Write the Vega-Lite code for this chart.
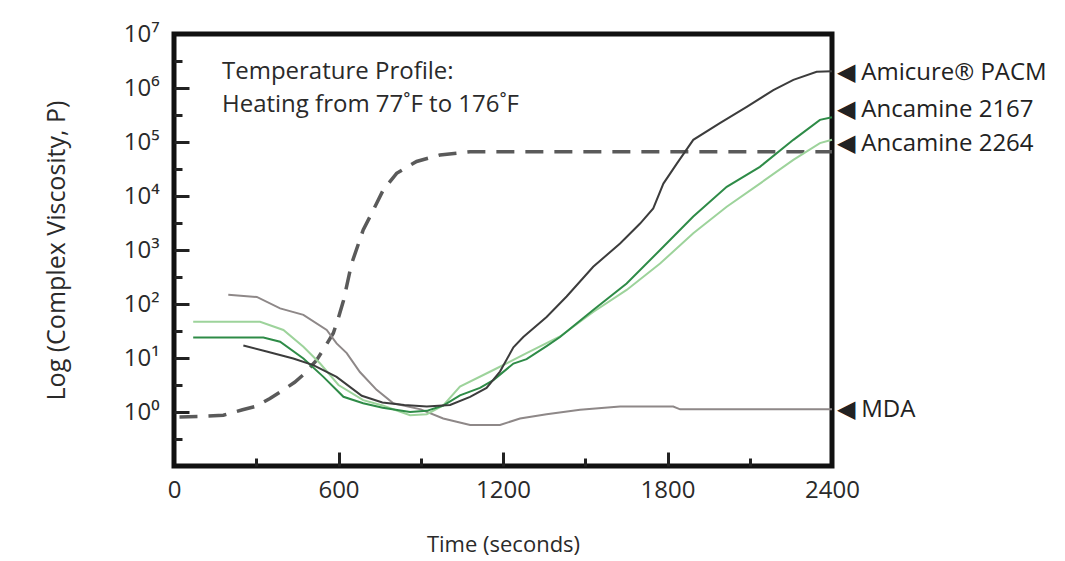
{
  "$schema": "https://vega.github.io/schema/vega-lite/v6.json",
  "width": 658,
  "height": 432,
  "autosize": {"type": "none"},
  "padding": {"left": 174, "top": 34, "right": 233, "bottom": 95},
  "background": "white",
  "config": {
    "font": "Open Sans",
    "view": {"stroke": "#111111", "strokeWidth": 5},
    "axis": {"grid": false, "domain": false}
  },
  "datasets": {
    "temp": [
      {"t": 20, "v": 0.81}, {"t": 100, "v": 0.83}, {"t": 180, "v": 0.87}, {"t": 250, "v": 1.1},
      {"t": 302, "v": 1.29}, {"t": 350, "v": 1.78}, {"t": 399, "v": 2.57}, {"t": 440, "v": 3.55},
      {"t": 472, "v": 4.9}, {"t": 520, "v": 9.12}, {"t": 550, "v": 15.8}, {"t": 581, "v": 28.8},
      {"t": 600, "v": 56}, {"t": 618, "v": 115}, {"t": 648, "v": 562}, {"t": 690, "v": 2344},
      {"t": 727, "v": 5495}, {"t": 763, "v": 12882}, {"t": 812, "v": 26303}, {"t": 885, "v": 43652},
      {"t": 970, "v": 57544}, {"t": 1080, "v": 66069}, {"t": 2400, "v": 66069}
    ],
    "curves": [
      {"series": "MDA", "t": 198, "v": 148}, {"series": "MDA", "t": 302, "v": 135},
      {"series": "MDA", "t": 387, "v": 83}, {"series": "MDA", "t": 472, "v": 63},
      {"series": "MDA", "t": 557, "v": 33}, {"series": "MDA", "t": 593, "v": 18.6},
      {"series": "MDA", "t": 630, "v": 12.3}, {"series": "MDA", "t": 678, "v": 5.5},
      {"series": "MDA", "t": 739, "v": 2.57}, {"series": "MDA", "t": 800, "v": 1.45},
      {"series": "MDA", "t": 900, "v": 1.12}, {"series": "MDA", "t": 982, "v": 0.76},
      {"series": "MDA", "t": 1080, "v": 0.575}, {"series": "MDA", "t": 1189, "v": 0.575},
      {"series": "MDA", "t": 1262, "v": 0.76}, {"series": "MDA", "t": 1359, "v": 0.91},
      {"series": "MDA", "t": 1481, "v": 1.1}, {"series": "MDA", "t": 1627, "v": 1.26},
      {"series": "MDA", "t": 1821, "v": 1.26}, {"series": "MDA", "t": 1846, "v": 1.12},
      {"series": "MDA", "t": 2400, "v": 1.12},

      {"series": "Ancamine 2264", "t": 70, "v": 47}, {"series": "Ancamine 2264", "t": 314, "v": 47},
      {"series": "Ancamine 2264", "t": 399, "v": 33}, {"series": "Ancamine 2264", "t": 472, "v": 16.2},
      {"series": "Ancamine 2264", "t": 533, "v": 7.9}, {"series": "Ancamine 2264", "t": 600, "v": 3.16},
      {"series": "Ancamine 2264", "t": 690, "v": 1.66}, {"series": "Ancamine 2264", "t": 761, "v": 1.32},
      {"series": "Ancamine 2264", "t": 861, "v": 0.87}, {"series": "Ancamine 2264", "t": 922, "v": 0.91},
      {"series": "Ancamine 2264", "t": 982, "v": 1.32}, {"series": "Ancamine 2264", "t": 1043, "v": 2.95},
      {"series": "Ancamine 2264", "t": 1165, "v": 6.0}, {"series": "Ancamine 2264", "t": 1286, "v": 12.3},
      {"series": "Ancamine 2264", "t": 1408, "v": 25}, {"series": "Ancamine 2264", "t": 1529, "v": 71},
      {"series": "Ancamine 2264", "t": 1651, "v": 182}, {"series": "Ancamine 2264", "t": 1773, "v": 562},
      {"series": "Ancamine 2264", "t": 1894, "v": 2042}, {"series": "Ancamine 2264", "t": 2016, "v": 6310},
      {"series": "Ancamine 2264", "t": 2137, "v": 16982}, {"series": "Ancamine 2264", "t": 2259, "v": 46774},
      {"series": "Ancamine 2264", "t": 2356, "v": 95500}, {"series": "Ancamine 2264", "t": 2400, "v": 109648},

      {"series": "Ancamine 2167", "t": 70, "v": 24}, {"series": "Ancamine 2167", "t": 326, "v": 24},
      {"series": "Ancamine 2167", "t": 387, "v": 20}, {"series": "Ancamine 2167", "t": 472, "v": 9.8},
      {"series": "Ancamine 2167", "t": 545, "v": 4.47}, {"series": "Ancamine 2167", "t": 618, "v": 1.91},
      {"series": "Ancamine 2167", "t": 690, "v": 1.45}, {"series": "Ancamine 2167", "t": 761, "v": 1.2},
      {"series": "Ancamine 2167", "t": 861, "v": 1.0}, {"series": "Ancamine 2167", "t": 922, "v": 1.05},
      {"series": "Ancamine 2167", "t": 982, "v": 1.32}, {"series": "Ancamine 2167", "t": 1043, "v": 2.04},
      {"series": "Ancamine 2167", "t": 1116, "v": 2.8}, {"series": "Ancamine 2167", "t": 1165, "v": 3.9},
      {"series": "Ancamine 2167", "t": 1238, "v": 7.9}, {"series": "Ancamine 2167", "t": 1286, "v": 9.5},
      {"series": "Ancamine 2167", "t": 1359, "v": 16.6}, {"series": "Ancamine 2167", "t": 1408, "v": 24.5},
      {"series": "Ancamine 2167", "t": 1529, "v": 77.6}, {"series": "Ancamine 2167", "t": 1651, "v": 240},
      {"series": "Ancamine 2167", "t": 1773, "v": 1000}, {"series": "Ancamine 2167", "t": 1894, "v": 4169},
      {"series": "Ancamine 2167", "t": 2016, "v": 14791}, {"series": "Ancamine 2167", "t": 2137, "v": 34674},
      {"series": "Ancamine 2167", "t": 2259, "v": 109648}, {"series": "Ancamine 2167", "t": 2356, "v": 257040},
      {"series": "Ancamine 2167", "t": 2400, "v": 288403},

      {"series": "Amicure PACM", "t": 253, "v": 17.0}, {"series": "Amicure PACM", "t": 338, "v": 13.2},
      {"series": "Amicure PACM", "t": 435, "v": 9.8}, {"series": "Amicure PACM", "t": 508, "v": 7.4},
      {"series": "Amicure PACM", "t": 593, "v": 4.47}, {"series": "Amicure PACM", "t": 685, "v": 2.0},
      {"series": "Amicure PACM", "t": 760, "v": 1.5}, {"series": "Amicure PACM", "t": 840, "v": 1.35},
      {"series": "Amicure PACM", "t": 922, "v": 1.26}, {"series": "Amicure PACM", "t": 1007, "v": 1.35},
      {"series": "Amicure PACM", "t": 1080, "v": 1.91}, {"series": "Amicure PACM", "t": 1140, "v": 2.8},
      {"series": "Amicure PACM", "t": 1189, "v": 5.6}, {"series": "Amicure PACM", "t": 1238, "v": 15.8},
      {"series": "Amicure PACM", "t": 1274, "v": 24.5}, {"series": "Amicure PACM", "t": 1359, "v": 57.5},
      {"series": "Amicure PACM", "t": 1432, "v": 138}, {"series": "Amicure PACM", "t": 1529, "v": 490},
      {"series": "Amicure PACM", "t": 1627, "v": 1318}, {"series": "Amicure PACM", "t": 1700, "v": 3090},
      {"series": "Amicure PACM", "t": 1748, "v": 5888}, {"series": "Amicure PACM", "t": 1785, "v": 16982},
      {"series": "Amicure PACM", "t": 1834, "v": 39811}, {"series": "Amicure PACM", "t": 1894, "v": 109648},
      {"series": "Amicure PACM", "t": 1991, "v": 223872}, {"series": "Amicure PACM", "t": 2089, "v": 446684},
      {"series": "Amicure PACM", "t": 2186, "v": 912011}, {"series": "Amicure PACM", "t": 2259, "v": 1412538},
      {"series": "Amicure PACM", "t": 2344, "v": 1995262}, {"series": "Amicure PACM", "t": 2400, "v": 2041738}
    ],
    "labels": [
      {"t": 2400, "v": 1900000, "label": "◀ Amicure® PACM"},
      {"t": 2400, "v": 392000, "label": "◀ Ancamine 2167"},
      {"t": 2400, "v": 93800, "label": "◀ Ancamine 2264"},
      {"t": 2400, "v": 1.1, "label": "◀ MDA"}
    ],
    "notes": [
      {"t": 175, "v": 1950000, "note": "Temperature Profile:"},
      {"t": 175, "v": 475000, "note": "Heating from 77˚F to 176˚F"}
    ]
  },
  "layer": [
    {
      "data": {"name": "temp"},
      "mark": {"type": "line", "strokeDash": [18, 11], "strokeWidth": 3.5, "color": "#5a5a5a"},
      "encoding": {
        "x": {"field": "t", "type": "quantitative", "scale": {"domain": [0, 2400], "nice": false},
          "axis": {"orient": "bottom", "values": [600, 1200, 1800], "labels": false, "title": null,
            "tickSize": -14, "tickWidth": 3, "tickColor": "#222222"}},
        "y": {"field": "v", "type": "quantitative", "scale": {"type": "log", "domain": [0.1, 10000000], "nice": false},
          "axis": {"orient": "left", "values": [1, 10, 100, 1000, 10000, 100000, 1000000], "labels": false, "title": null,
            "tickSize": -15, "tickWidth": 3, "tickColor": "#222222"}}
      }
    },
    {
      "data": {"name": "curves"},
      "mark": {"type": "line"},
      "encoding": {
        "x": {"field": "t", "type": "quantitative",
          "axis": {"orient": "bottom", "values": [0, 600, 1200, 1800, 2400], "format": "d", "ticks": false, "labelPadding": 12,
            "labelFontSize": 24, "labelColor": "#2a2a2a", "labelFlush": false,
            "title": "Time (seconds)", "titleFontSize": 22, "titleFontWeight": "normal", "titleColor": "#2a2a2a", "titlePadding": 32}},
        "y": {"field": "v", "type": "quantitative",
          "axis": {"orient": "left", "values": [1, 10, 100, 1000, 10000, 100000, 1000000, 10000000], "ticks": false, "labelPadding": 15,
            "labelFontSize": 24, "labelColor": "#2a2a2a",
            "labelExpr": "'10' + ['⁰','¹','²','³','⁴','⁵','⁶','⁷'][round(log(datum.value)/LN10)]",
            "title": "Log (Complex Viscosity, P)", "titleFontSize": 25, "titleFontWeight": "normal", "titleColor": "#2a2a2a", "titlePadding": 54}},
        "color": {"field": "series", "type": "nominal",
          "scale": {"domain": ["MDA", "Ancamine 2264", "Ancamine 2167", "Amicure PACM"], "range": ["#8e8888", "#9dd39b", "#2e8b47", "#3c3c3c"]},
          "legend": null},
        "strokeWidth": {"field": "series", "type": "ordinal",
          "scale": {"domain": ["MDA", "Ancamine 2264", "Ancamine 2167", "Amicure PACM"], "range": [2, 2, 2.2, 2.5]},
          "legend": null}
      }
    },
    {
      "data": {"name": "labels"},
      "mark": {"type": "text", "align": "left", "baseline": "middle", "dx": 5, "fontSize": 24, "color": "#222222"},
      "encoding": {
        "x": {"field": "t", "type": "quantitative",
          "axis": {"orient": "bottom", "values": [300, 900, 1500, 2100], "labels": false, "title": null,
            "tickSize": -8, "tickWidth": 3, "tickColor": "#222222"}},
        "y": {"field": "v", "type": "quantitative",
          "axis": {"orient": "left", "values": [0.316, 3.16, 31.6, 316, 3162, 31623, 316228, 3162278], "labels": false, "title": null,
            "tickSize": -8, "tickWidth": 3, "tickColor": "#222222"}},
        "text": {"field": "label"}
      }
    },
    {
      "data": {"name": "notes"},
      "mark": {"type": "text", "align": "left", "baseline": "middle", "fontSize": 24, "color": "#2a2a2a"},
      "encoding": {
        "x": {"field": "t", "type": "quantitative", "axis": null},
        "y": {"field": "v", "type": "quantitative", "axis": null},
        "text": {"field": "note"}
      }
    }
  ],
  "resolve": {"axis": {"x": "independent", "y": "independent"}}
}
